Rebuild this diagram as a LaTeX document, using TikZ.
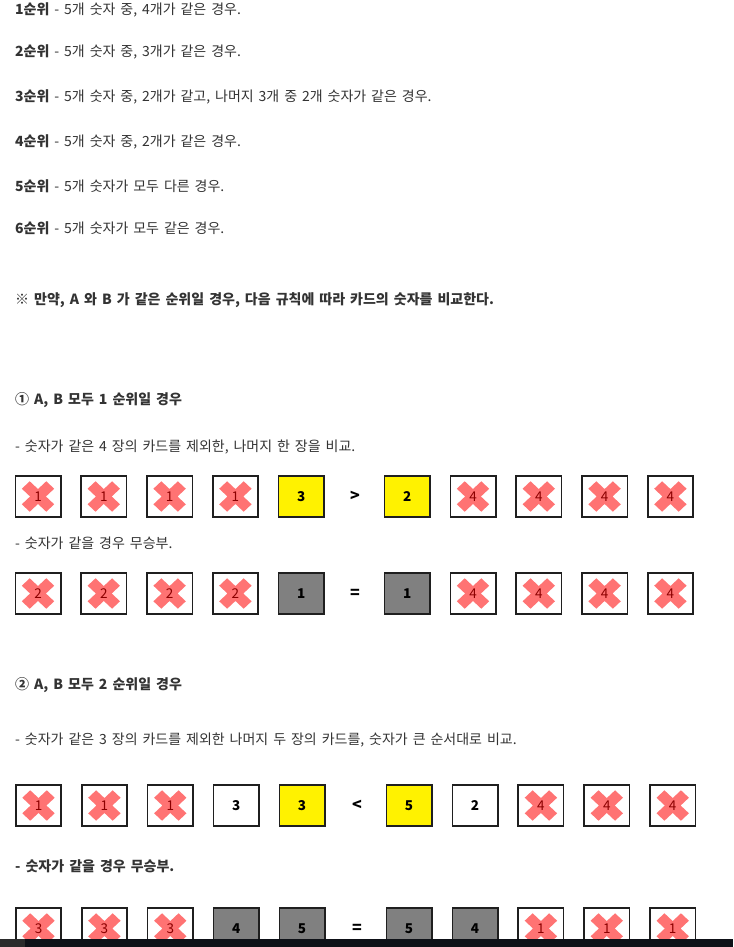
\documentclass[tikz,border=0pt]{standalone}
\usepackage{fontspec}
\setmainfont{Noto Sans CJK KR}[WordSpace=1.57]
\definecolor{txt}{HTML}{333333}
\definecolor{crossred}{HTML}{FF0000}
\definecolor{barc}{HTML}{0E1117}
\definecolor{barl}{HTML}{2B2B2B}
\tikzset{
  line/.style={anchor=west, inner sep=0pt, text=txt, font=\fontsize{14}{16}\selectfont},
  bline/.style={line, font=\fontsize{14}{16}\selectfont\bfseries},
  card/.style={draw=black!88, line width=1.6pt, minimum width=45.4pt, minimum height=41.4pt,
    inner sep=0pt, font=\fontsize{13.5}{15}\selectfont\bfseries, text=black},
  card0/.style={card, fill=white, font=\fontsize{13.5}{15}\selectfont},
  card1/.style={card, fill=white},
  card2/.style={card, fill=yellow},
  card3/.style={card, fill=black!50},
  sym/.style={inner sep=0pt, font=\fontsize{16}{18}\selectfont\bfseries, text=black},
  crossx/.pic={\fill[crossred, opacity=0.55, yscale=0.94, rotate=45]
    (17.3,-5.6) -- (17.3,5.6) -- (5.6,5.6) -- (5.6,17.3) -- (-5.6,17.3) -- (-5.6,5.6) --
    (-17.3,5.6) -- (-17.3,-5.6) -- (-5.6,-5.6) -- (-5.6,-17.3) -- (5.6,-17.3) -- (5.6,-5.6) -- cycle;}
}
\begin{document}
\begin{tikzpicture}[x=1pt,y=-1pt]
\useasboundingbox[fill=white] (0,0) rectangle (733,947);

\node[line] (t1) at (15,10) {{\bfseries 1순위} - 5개 숫자 중, 4개가 같은 경우.};
\node[line] (t2) at (15,52) {{\bfseries 2순위} - 5개 숫자 중, 3개가 같은 경우.};
\node[line] (t3) at (15,97) {{\bfseries 3순위} - 5개 숫자 중, 2개가 같고, 나머지 3개 중 2개 숫자가 같은 경우.};
\node[line] (t4) at (15,142) {{\bfseries 4순위} - 5개 숫자 중, 2개가 같은 경우.};
\node[line] (t5) at (15,186) {{\bfseries 5순위} - 5개 숫자가 모두 다른 경우.};
\node[line] (t6) at (15,228) {{\bfseries 6순위} - 5개 숫자가 모두 같은 경우.};
\node[bline] (n1) at (15,300) {※ 만약, A 와 B 가 같은 순위일 경우, 다음 규칙에 따라 카드의 숫자를 비교한다.};
\node[bline] (s1) at (15,400) {① A, B 모두 1 순위일 경우};
\node[line] (d1) at (15,447) {- 숫자가 같은 4 장의 카드를 제외한, 나머지 한 장을 비교.};
\node[line] (d2) at (15,543) {- 숫자가 같을 경우 무승부.};
\node[bline] (s2) at (15,685) {② A, B 모두 2 순위일 경우};
\node[line] (d3) at (15,740) {- 숫자가 같은 3 장의 카드를 제외한 나머지 두 장의 카드를, 숫자가 큰 순서대로 비교.};
\node[bline] (d4) at (15,866) {- 숫자가 같을 경우 무승부.};

% row 1
\foreach \i/\t/\n in {1/0/1,2/0/1,3/0/1,4/0/1,5/2/3,6/2/2,7/0/4,8/0/4,9/0/4,10/0/4}{
  \node[card\t] (ra\i) at ({38+(\i-1)*65.8+(\i>5)*40.2},496.5) {\n};
  \ifnum\t=0 \pic at (ra\i.center) {crossx};\fi
}
\node[sym] (ga) at (355,496.5) {>};
% row 2
\foreach \i/\t/\n in {1/0/2,2/0/2,3/0/2,4/0/2,5/3/1,6/3/1,7/0/4,8/0/4,9/0/4,10/0/4}{
  \node[card\t] (rb\i) at ({38+(\i-1)*65.8+(\i>5)*40.2},593.5) {\n};
  \ifnum\t=0 \pic at (rb\i.center) {crossx};\fi
}
\node[sym] (gb) at (355,593.5) {=};
% row 3
\foreach \i/\t/\n in {1/0/1,2/0/1,3/0/1,4/1/3,5/2/3,6/2/5,7/1/2,8/0/4,9/0/4,10/0/4}{
  \node[card\t] (rc\i) at ({38.5+(\i-1)*65.9+(\i>5)*41.1},805.5) {\n};
  \ifnum\t=0 \pic at (rc\i.center) {crossx};\fi
}
\node[sym] (gc) at (357,805.5) {<};
% row 4
\foreach \i/\t/\n in {1/0/3,2/0/3,3/0/3,4/3/4,5/3/5,6/3/5,7/3/4,8/0/1,9/0/1,10/0/1}{
  \node[card\t] (rd\i) at ({38.5+(\i-1)*65.9+(\i>5)*41.1},928.5) {\n};
  \ifnum\t=0 \pic at (rd\i.center) {crossx};\fi
}
\node[sym] (gd) at (357,928.5) {=};

% bottom bar
\fill[barc] (0,939) rectangle (733,947);
\fill[barl] (0,939) rectangle (25,947);
\end{tikzpicture}
\end{document}
